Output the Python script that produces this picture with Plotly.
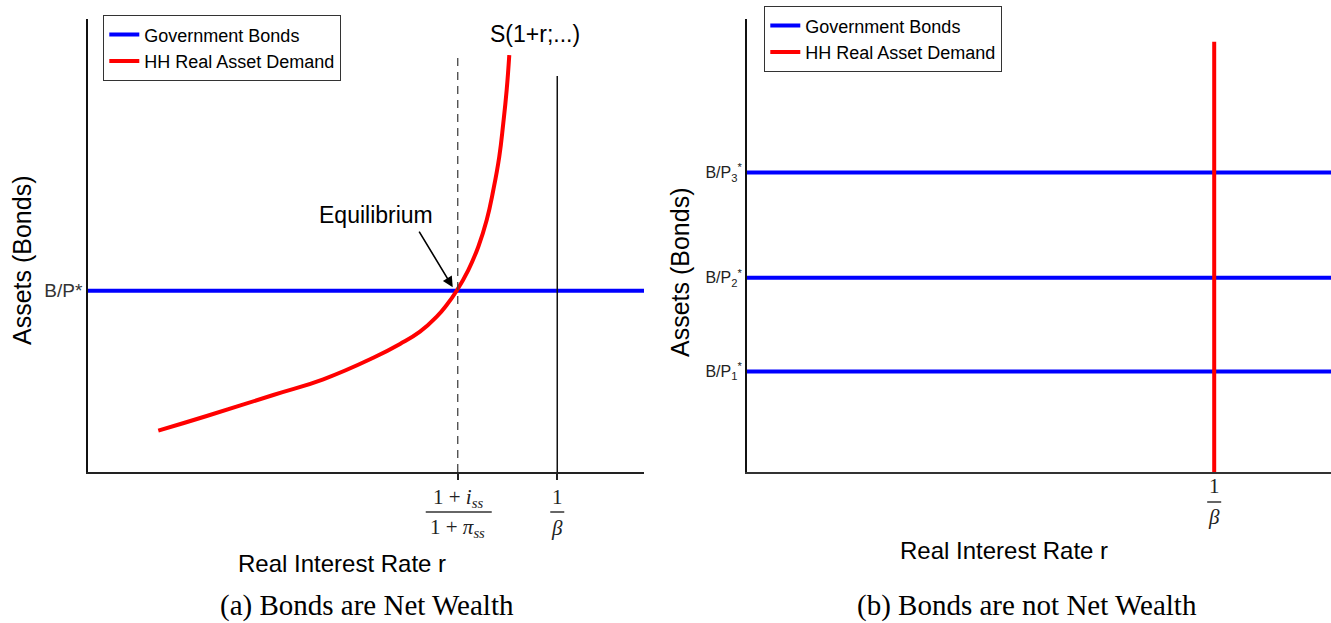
import plotly.graph_objects as go

W, H = 1331, 623

# ---------------- data (panel a) ----------------
bond_level_a = 4.0                      # B/P*
r_equilibrium = 6.65                    # (1+i_ss)/(1+pi_ss)
r_beta = 8.44                           # 1/beta
dash_top = 9.2
beta_top = 8.74
demand_r = [1.264, 2.135, 3.333, 4.232, 5.131, 5.612, 5.971, 6.272, 6.451, 6.631,
            6.840, 7.020, 7.171, 7.290, 7.397, 7.469, 7.530, 7.577]
demand_a = [0.912, 1.236, 1.700, 2.046, 2.521, 2.826, 3.097, 3.428, 3.687, 4.002,
            4.459, 4.974, 5.563, 6.225, 6.960, 7.698, 8.433, 9.205]

# ---------------- data (panel b) ----------------
bond_levels_b = [2.22, 4.29, 6.61]      # B/P1*, B/P2*, B/P3*
bond_labels_b = ["B/P<sub>1</sub><sup>*</sup>", "B/P<sub>2</sub><sup>*</sup>", "B/P<sub>3</sub><sup>*</sup>"]
r_beta_b = 8.0
red_top_b = 9.5

BLUE = "#0000ff"
RED = "#ff0000"
SANS = "Liberation Sans, Arial, sans-serif"
SERIF = "Liberation Serif, Times New Roman, serif"


def px(x):
    return x / W


def py(y):
    return 1 - y / H


fig = go.Figure()

# ---- panel a ----
fig.add_trace(go.Scatter(x=[0, 10], y=[bond_level_a, bond_level_a], mode="lines",
                         line=dict(color=BLUE, width=4), name="Government Bonds",
                         xaxis="x", yaxis="y", legend="legend"))
fig.add_trace(go.Scatter(x=demand_r, y=demand_a, mode="lines",
                         line=dict(color=RED, width=4, shape="spline", smoothing=1.3),
                         name="HH Real Asset Demand", xaxis="x", yaxis="y", legend="legend"))
fig.add_trace(go.Scatter(x=[r_equilibrium, r_equilibrium], y=[0, dash_top], mode="lines",
                         line=dict(color="#444", width=1.3, dash="8px,6px"), showlegend=False,
                         xaxis="x", yaxis="y"))
fig.add_trace(go.Scatter(x=[r_beta, r_beta], y=[0, beta_top], mode="lines",
                         line=dict(color="#111", width=1.5), showlegend=False,
                         xaxis="x", yaxis="y"))

# ---- panel b ----
bx, by = [], []
for i, v in enumerate(bond_levels_b):
    if i:
        bx.append(None)
        by.append(None)
    bx += [-0.05, 10]
    by += [v, v]
fig.add_trace(go.Scatter(x=bx, y=by, mode="lines", line=dict(color=BLUE, width=4),
                         name="Government Bonds", xaxis="x2", yaxis="y2", legend="legend2",
                         connectgaps=False))
fig.add_trace(go.Scatter(x=[r_beta_b, r_beta_b], y=[0, red_top_b], mode="lines",
                         line=dict(color=RED, width=4), name="HH Real Asset Demand",
                         xaxis="x2", yaxis="y2", legend="legend2"))

ydom = [py(472), py(19)]

fig.update_layout(
    width=W, height=H,
    margin=dict(l=0, r=0, t=0, b=0),
    paper_bgcolor="white", plot_bgcolor="white",
    xaxis=dict(domain=[px(88), px(644)], range=[0, 10], anchor="y", showgrid=False, zeroline=False,
               showline=True, linecolor="#222", linewidth=1.6,
               tickvals=[r_equilibrium, r_beta], ticks="outside", ticklen=6, tickwidth=1.5,
               tickcolor="#222", showticklabels=False),
    yaxis=dict(domain=ydom, range=[0, 10], anchor="x", showgrid=False, zeroline=False,
               showline=True, linecolor="#111", linewidth=1.6,
               tickvals=[bond_level_a], ticktext=["B/P*"], ticks="",
               tickfont=dict(family=SANS, size=19, color="#333")),
    xaxis2=dict(domain=[px(747), 1.0], range=[0, 10], anchor="y2", showgrid=False, zeroline=False,
                showline=True, linecolor="#333", linewidth=2, showticklabels=False, ticks=""),
    yaxis2=dict(domain=ydom, range=[0, 10], anchor="x2", showgrid=False, zeroline=False,
                showline=True, linecolor="#111", linewidth=2,
                tickvals=bond_levels_b, ticktext=bond_labels_b, ticks="",
                tickfont=dict(family=SANS, size=16, color="#222")),
    legend=dict(x=px(103), y=py(15), xanchor="left", yanchor="top",
                bordercolor="#333", borderwidth=1.3, bgcolor="white",
                font=dict(family=SANS, size=18, color="black"), tracegroupgap=0),
    legend2=dict(x=px(764), y=py(6), xanchor="left", yanchor="top",
                 bordercolor="#333", borderwidth=1.3, bgcolor="white",
                 font=dict(family=SANS, size=18, color="black"), tracegroupgap=0),
    showlegend=True,
)


def text(t, x, y, size, family=SANS, xref="paper", angle=0, color="black"):
    return dict(text=t, x=x if xref != "paper" else px(x), y=py(y), xref=xref, yref="paper",
                xanchor="center", yanchor="middle", textangle=angle, showarrow=False,
                font=dict(family=family, size=size, color=color))


ann = []
# axis titles
ann.append(text("Assets (Bonds)", 22, 260, 25, angle=-90))
ann.append(text("Assets (Bonds)", 680, 272, 25, angle=-90))
ann.append(text("Real Interest Rate r", 342, 563, 24))
ann.append(text("Real Interest Rate r", 1004, 550, 24))
# captions
ann.append(text("(a) Bonds are Net Wealth", 367, 605, 29, family=SERIF))
ann.append(text("(b) Bonds are not Net Wealth", 1027, 605, 29, family=SERIF))
# curve label & equilibrium
ann.append(text("S(1+r;...)", 535, 34, 23))
ann.append(text("Equilibrium", 376, 215, 23))
ann.append(dict(text="", x=6.56, y=4.08, xref="x", yref="y", ax=5.94, ay=5.34,
                axref="x", ayref="y", showarrow=True, arrowhead=2, arrowsize=1.3,
                arrowwidth=1.6, arrowcolor="black"))

# fraction tick labels
FS = 21
FC = "#222"
ann.append(text("1 + <i>i<sub>ss</sub></i>", r_equilibrium, 498, FS, SERIF, "x", color=FC))
ann.append(text("1 + <i>π<sub>ss</sub></i>", r_equilibrium, 528, FS, SERIF, "x", color=FC))
ann.append(text("1", r_beta, 497, FS, SERIF, "x", color=FC))
ann.append(text("<i>β</i>", r_beta, 528, FS, SERIF, "x", color=FC))
ann.append(text("1", r_beta_b, 486, FS, SERIF, "x2", color=FC))
ann.append(text("<i>β</i>", r_beta_b, 517, FS, SERIF, "x2", color=FC))

shapes = [
    dict(type="line", xref="x", yref="paper", xsizemode="pixel", xanchor=r_equilibrium,
         x0=-32, x1=34, y0=py(512), y1=py(512), line=dict(color="#333", width=1.5)),
    dict(type="line", xref="x", yref="paper", xsizemode="pixel", xanchor=r_beta,
         x0=-7, x1=7, y0=py(512), y1=py(512), line=dict(color="#333", width=1.5)),
    dict(type="line", xref="x2", yref="paper", xsizemode="pixel", xanchor=r_beta_b,
         x0=-7, x1=7, y0=py(502), y1=py(502), line=dict(color="#333", width=1.5)),
]

fig.update_layout(annotations=ann, shapes=shapes)

fig.write_html("out.html", config={"displayModeBar": False},
               post_script="document.body.style.margin='0px';document.body.style.overflow='hidden';")
